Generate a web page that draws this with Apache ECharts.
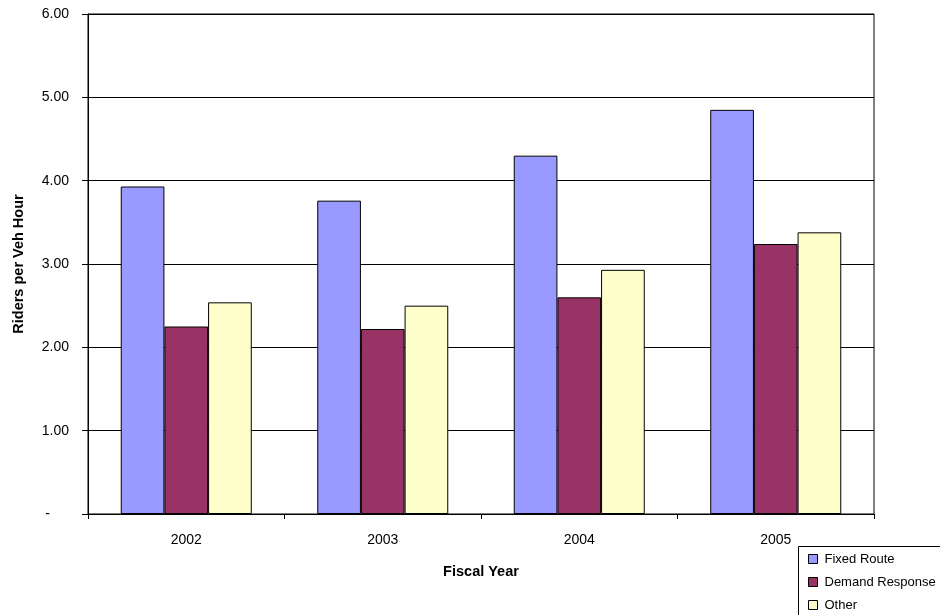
<!DOCTYPE html>
<html>
<head>
<meta charset="utf-8">
<script src="https://cdn.jsdelivr.net/npm/echarts@6/dist/echarts.min.js"></script>
<style>
  html, body { margin: 0; padding: 0; background: #fff; }
  #chart { width: 940px; height: 615px; }
</style>
</head>
<body>
<div id="chart"></div>
<script>
// Riders per vehicle hour by fiscal year and service mode
const years = ['2002', '2003', '2004', '2005'];
const fixedRoute = [3.93, 3.76, 4.30, 4.85];
const demandResponse = [2.25, 2.22, 2.60, 3.24];
const other = [2.54, 2.50, 2.93, 3.38];

const FONT = '"Liberation Sans", Arial, sans-serif';

const chart = echarts.init(document.getElementById('chart'), null, { renderer: 'canvas' });

function barSeries(name, data, color) {
  return {
    name: name,
    type: 'bar',
    data: data,
    barGap: '0%',
    barCategoryGap: '33.33%',
    itemStyle: { color: color, borderColor: '#000', borderWidth: 1 },
    emphasis: { disabled: true }
  };
}

chart.setOption({
  animation: false,
  backgroundColor: '#fff',
  textStyle: { fontFamily: FONT },
  grid: {
    left: 88, right: 66, top: 14, bottom: 101,
    show: true, borderColor: '#000', borderWidth: 1, backgroundColor: 'transparent'
  },
  // legend frame runs past the right and bottom edges of the canvas
  graphic: [{
    type: 'rect',
    left: 796, top: 544,
    shape: { width: 200, height: 100 },
    style: { fill: 'none', stroke: '#000', lineWidth: 1 },
    silent: true
  }],
  legend: {
    orient: 'vertical',
    left: 796, top: 544,
    icon: 'rect',
    itemWidth: 9, itemHeight: 9, itemGap: 9,
    padding: [8, 12, 0, 12],
    textStyle: { fontFamily: FONT, fontSize: 13, lineHeight: 14, color: '#000', padding: [0, 0, 0, 2] },
    itemStyle: { borderColor: '#000', borderWidth: 1 },
    data: ['Fixed Route', 'Demand Response', 'Other']
  },
  xAxis: {
    type: 'category',
    data: years,
    name: 'Fiscal Year',
    nameLocation: 'middle',
    nameGap: 50,
    nameTextStyle: { fontFamily: FONT, fontSize: 14.5, fontWeight: 'bold', color: '#000' },
    axisLine: { lineStyle: { color: '#000', width: 1 } },
    axisTick: { show: true, length: 5, lineStyle: { color: '#000' } },
    axisLabel: { margin: 19, fontFamily: FONT, fontSize: 14, color: '#000' },
    splitLine: { show: false }
  },
  yAxis: {
    type: 'value',
    min: 0, max: 6, interval: 1,
    name: 'Riders per Veh Hour',
    nameLocation: 'middle',
    nameGap: 62,
    nameTextStyle: { fontFamily: FONT, fontSize: 14.5, fontWeight: 'bold', color: '#000' },
    axisLine: { show: true, lineStyle: { color: '#000', width: 1 } },
    axisTick: { show: true, length: 6, lineStyle: { color: '#000' } },
    axisLabel: {
      margin: 19, fontFamily: FONT, fontSize: 14, color: '#000',
      formatter: function (v) { return v === 0 ? '{d|-}' : v.toFixed(2); },
      rich: { d: { padding: [0, 19, 0, 0], fontFamily: FONT, fontSize: 14, color: '#000' } }
    },
    splitLine: { show: true, lineStyle: { color: '#000', width: 1 } }
  },
  series: [
    barSeries('Fixed Route', fixedRoute, '#9999FF'),
    barSeries('Demand Response', demandResponse, '#993366'),
    barSeries('Other', other, '#FFFFCC')
  ]
});
</script>
</body>
</html>
